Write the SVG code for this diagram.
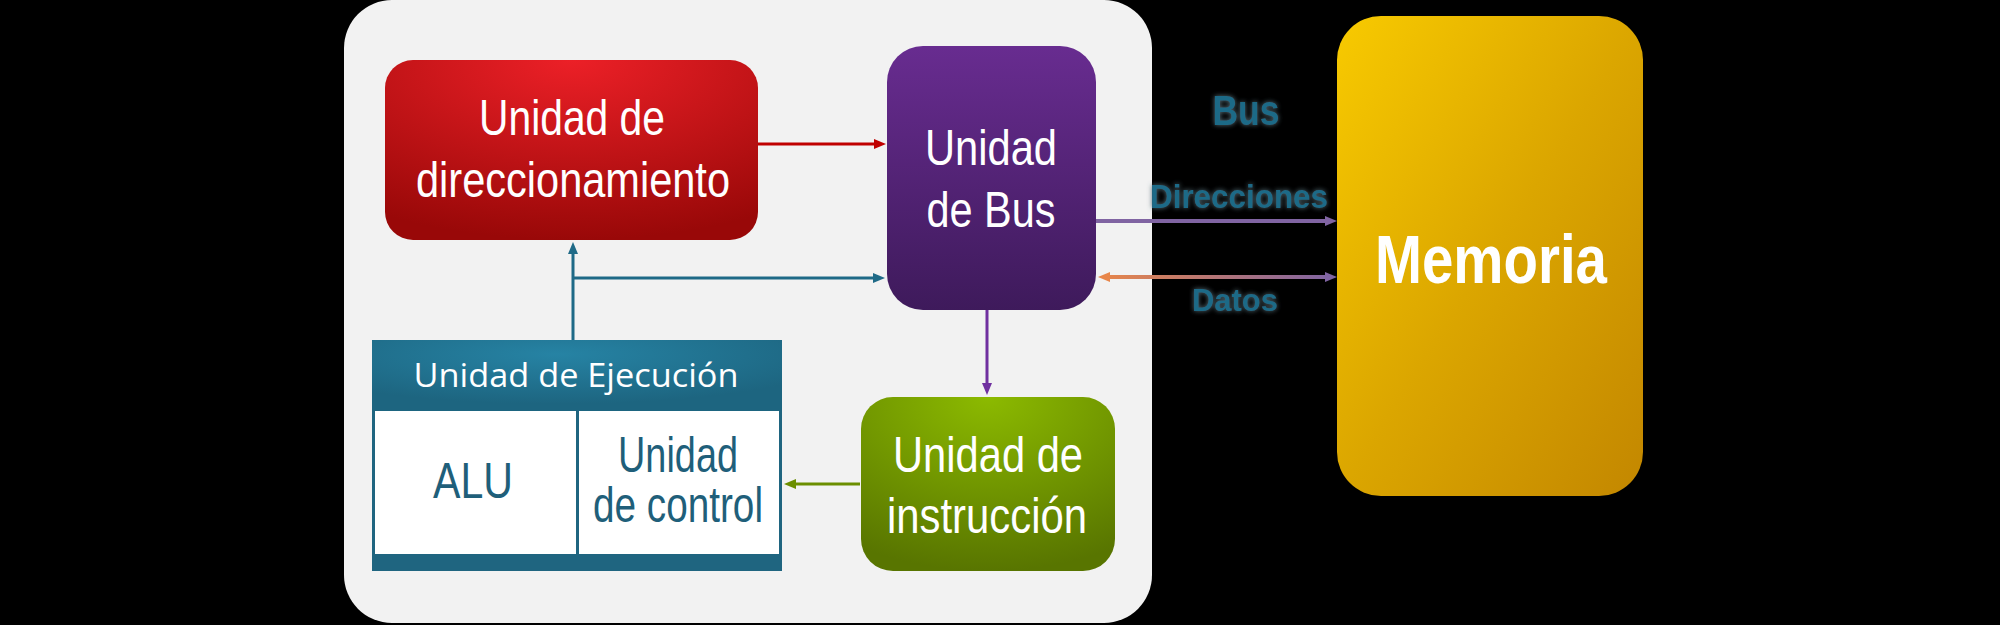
<svg xmlns="http://www.w3.org/2000/svg" width="2000" height="625" viewBox="0 0 2000 625">
<defs>
<style>
.box-t{font-family:"Liberation Sans",Arial,sans-serif;fill:#ffffff;text-anchor:middle;font-size:50px}
.tbl-t{font-family:"Liberation Sans",Arial,sans-serif;fill:#1f5f7a;text-anchor:middle;font-size:50px}
.hdr-t{font-family:"Open Sans","Noto Sans",sans-serif;fill:#ffffff;text-anchor:middle;font-size:32px}
.bus-t{font-family:"Liberation Sans",Arial,sans-serif;font-weight:bold;fill:#1f6a87;text-anchor:middle}
.mem-t{font-family:"Liberation Sans",Arial,sans-serif;font-weight:bold;fill:#ffffff;text-anchor:middle;font-size:69px}
.conn{fill:none;stroke-width:3}
</style>
<radialGradient id="gRed" cx="50%" cy="0%" r="100%" fx="50%" fy="0%">
<stop offset="0" stop-color="#ec2027"/>
<stop offset="1" stop-color="#990808"/>
</radialGradient>
<linearGradient id="gPurple" x1="0" y1="0" x2="0" y2="1">
<stop offset="0" stop-color="#682c90"/>
<stop offset="1" stop-color="#3e1a5b"/>
</linearGradient>
<radialGradient id="gGreen" cx="50%" cy="0%" r="100%" fx="50%" fy="0%">
<stop offset="0" stop-color="#8cba00"/>
<stop offset="1" stop-color="#587500"/>
</radialGradient>
<linearGradient id="gGold" x1="0" y1="0" x2="1" y2="1">
<stop offset="0" stop-color="#f8ca00"/>
<stop offset="0.5" stop-color="#dba600"/>
<stop offset="1" stop-color="#c38700"/>
</linearGradient>
<radialGradient id="gHdr" cx="45%" cy="20%" r="70%">
<stop offset="0" stop-color="#2683a4"/>
<stop offset="1" stop-color="#1d6580"/>
</radialGradient>
<linearGradient id="gDatos" gradientUnits="userSpaceOnUse" x1="1100" y1="0" x2="1330" y2="0">
<stop offset="0" stop-color="#e8864a"/>
<stop offset="1" stop-color="#8064a2"/>
</linearGradient>
<filter id="glow" x="-20%" y="-30%" width="140%" height="160%">
<feGaussianBlur in="SourceAlpha" stdDeviation="2.5" result="b"/>
<feFlood flood-color="#56707a" result="c"/>
<feComposite in="c" in2="b" operator="in" result="s"/>
<feMerge><feMergeNode in="s"/><feMergeNode in="SourceGraphic"/></feMerge>
</filter>
<marker id="mRed" markerUnits="userSpaceOnUse" markerWidth="14" markerHeight="12" refX="2" refY="5" orient="auto"><path d="M0,0 L12,5 L0,10 z" fill="#c00000"/></marker>
<marker id="mTeal" markerUnits="userSpaceOnUse" markerWidth="14" markerHeight="12" refX="2" refY="5" orient="auto"><path d="M0,0 L12,5 L0,10 z" fill="#1f6a87"/></marker>
<marker id="mPurple" markerUnits="userSpaceOnUse" markerWidth="14" markerHeight="12" refX="2" refY="5" orient="auto"><path d="M0,0 L12,5 L0,10 z" fill="#7030a0"/></marker>
<marker id="mOlive" markerUnits="userSpaceOnUse" markerWidth="14" markerHeight="12" refX="2" refY="5" orient="auto"><path d="M0,0 L12,5 L0,10 z" fill="#6b8e00"/></marker>
<marker id="mLav" markerUnits="userSpaceOnUse" markerWidth="14" markerHeight="12" refX="2" refY="5" orient="auto"><path d="M0,0 L12,5 L0,10 z" fill="#8064a2"/></marker>
<marker id="mOrange" markerUnits="userSpaceOnUse" markerWidth="14" markerHeight="12" refX="2" refY="5" orient="auto-start-reverse"><path d="M0,0 L12,5 L0,10 z" fill="#e8864a"/></marker>
</defs>
<rect x="0" y="0" width="2000" height="625" fill="#000000"/>
<rect id="panel" x="344" y="0" width="808" height="623" rx="48" ry="48" fill="#f2f2f2"/>

<g id="connectors">
<line class="conn" x1="758" y1="144" x2="876" y2="144" stroke="#c00000" marker-end="url(#mRed)"/>
<line class="conn" x1="573" y1="340" x2="573" y2="252" stroke="#1f6a87" marker-end="url(#mTeal)"/>
<line class="conn" x1="573" y1="278" x2="875" y2="278" stroke="#1f6a87" marker-end="url(#mTeal)"/>
<line class="conn" x1="987" y1="310" x2="987" y2="385" stroke="#7030a0" marker-end="url(#mPurple)"/>
<line class="conn" x1="860" y1="484" x2="794" y2="484" stroke="#6b8e00" marker-end="url(#mOlive)"/>
<line x1="1096" y1="221" x2="1327" y2="221" stroke="#8064a2" stroke-width="4" marker-end="url(#mLav)"/>
<line x1="1108" y1="277" x2="1327" y2="277" stroke="url(#gDatos)" stroke-width="4" marker-start="url(#mOrange)" marker-end="url(#mLav)"/>
</g>

<g id="n-direccionamiento">
<rect x="385" y="60" width="373" height="180" rx="28" fill="url(#gRed)"/>
<text class="box-t" x="572" y="135" textLength="186" lengthAdjust="spacingAndGlyphs">Unidad de</text>
<text class="box-t" x="573" y="197" textLength="314" lengthAdjust="spacingAndGlyphs">direccionamiento</text>
</g>

<g id="n-bus">
<rect x="887" y="46" width="209" height="264" rx="36" fill="url(#gPurple)"/>
<text class="box-t" x="991" y="165" textLength="132" lengthAdjust="spacingAndGlyphs">Unidad</text>
<text class="box-t" x="991" y="227" textLength="129" lengthAdjust="spacingAndGlyphs">de Bus</text>
</g>

<g id="n-instruccion">
<rect x="861" y="397" width="254" height="174" rx="32" fill="url(#gGreen)"/>
<text class="box-t" x="988" y="472" textLength="190" lengthAdjust="spacingAndGlyphs">Unidad de</text>
<text class="box-t" x="987" y="533" textLength="200" lengthAdjust="spacingAndGlyphs">instrucción</text>
</g>

<g id="n-ejecucion">
<rect x="372" y="340" width="410" height="231" fill="#1f6580"/>
<rect x="372" y="340" width="410" height="71" fill="url(#gHdr)"/>
<rect x="375" y="411" width="201" height="143" fill="#ffffff"/>
<rect x="579" y="411" width="200" height="143" fill="#ffffff"/>
<text class="hdr-t" x="576" y="387" textLength="325" lengthAdjust="spacingAndGlyphs">Unidad de Ejecución</text>
<text class="tbl-t" x="473" y="498" textLength="80" lengthAdjust="spacingAndGlyphs">ALU</text>
<text class="tbl-t" x="678" y="472" textLength="120" lengthAdjust="spacingAndGlyphs">Unidad</text>
<text class="tbl-t" x="678" y="522" textLength="170" lengthAdjust="spacingAndGlyphs">de control</text>
</g>

<g id="n-memoria">
<rect x="1337" y="16" width="306" height="480" rx="44" fill="url(#gGold)"/>
<text class="mem-t" x="1491" y="283" textLength="232" lengthAdjust="spacingAndGlyphs">Memoria</text>
</g>

<g id="labels" filter="url(#glow)">
<text class="bus-t" x="1246" y="125" font-size="42" textLength="67" lengthAdjust="spacingAndGlyphs">Bus</text>
<text class="bus-t" x="1239" y="208" font-size="33" textLength="178" lengthAdjust="spacingAndGlyphs">Direcciones</text>
<text class="bus-t" x="1235" y="311" font-size="31" textLength="86" lengthAdjust="spacingAndGlyphs">Datos</text>
</g>
</svg>
